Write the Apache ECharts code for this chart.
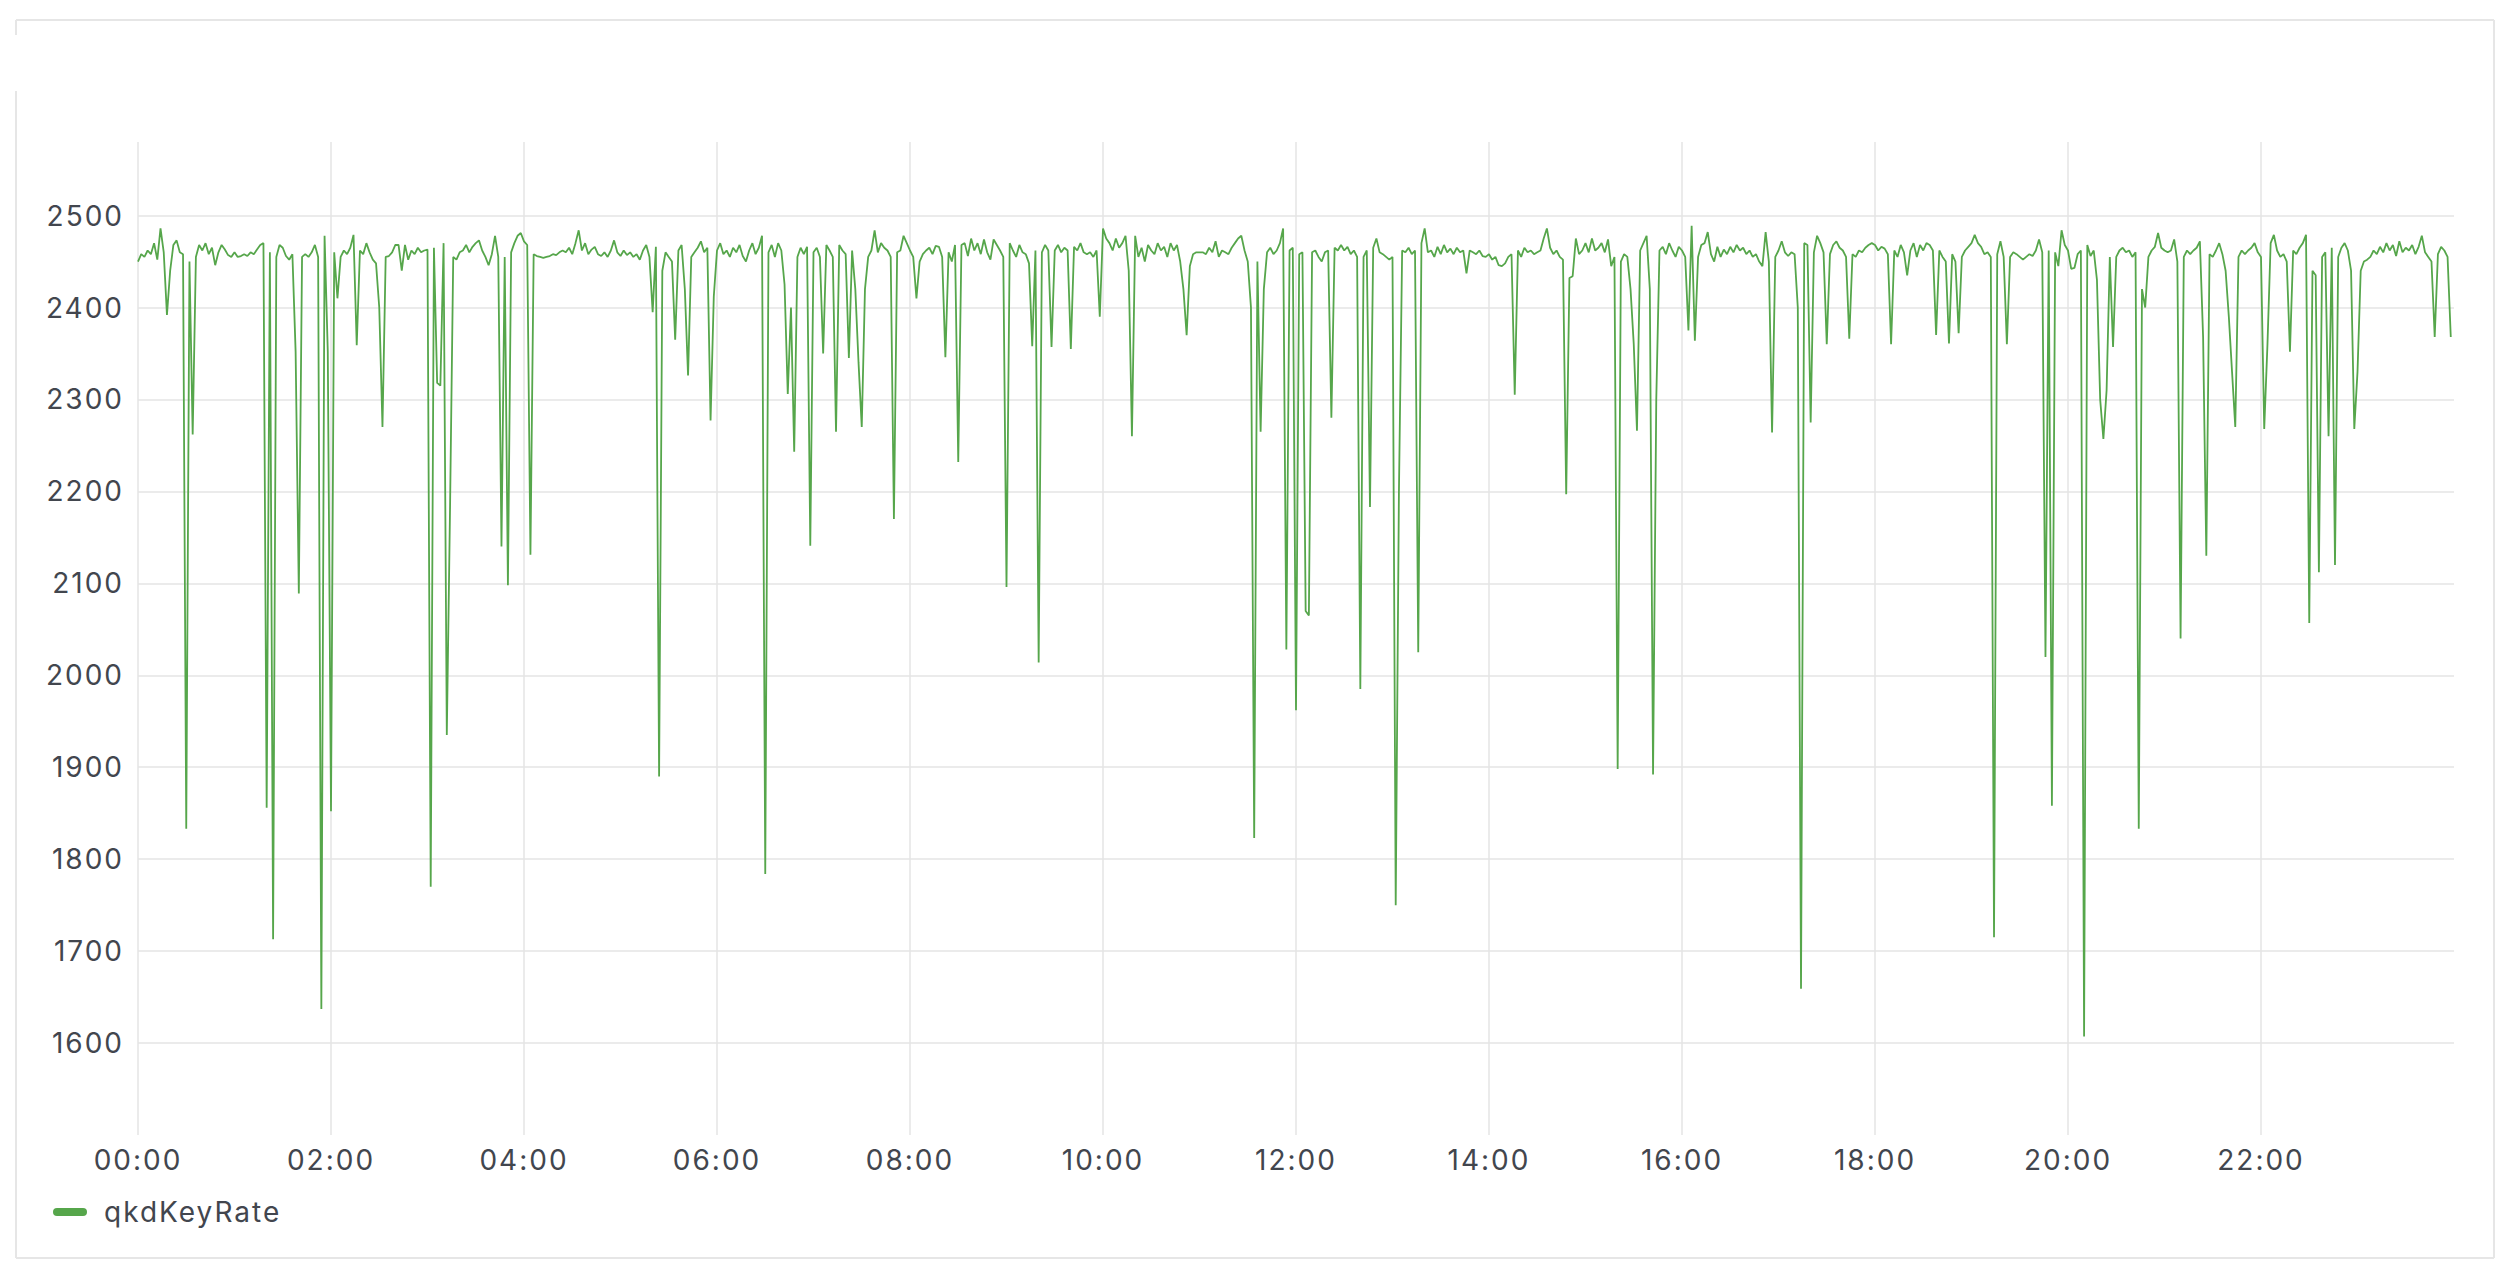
<!DOCTYPE html>
<html>
<head>
<meta charset="utf-8">
<title>qkdKeyRate</title>
<script src="https://cdn.jsdelivr.net/npm/echarts@6/dist/echarts.min.js"></script>
<style>
  html, body { margin: 0; padding: 0; background: #fff; }
  #chart { width: 2514px; height: 1275px; }
  /* the source screenshot has loosely spaced glyphs */
  #chart text { letter-spacing: 2px; }
</style>
</head>
<body>
<div id="chart"></div>
<script>
// qkdKeyRate, one sample every 2 minutes, one array per 2-hour block
const rate00 = [
  2450, 2458, 2455, 2462, 2458, 2470, 2452, 2486, 2460, 2392,
  2440, 2468, 2473, 2460, 2458, 1833, 2450, 2262, 2455, 2468,
  2462, 2470, 2458, 2465, 2446, 2460, 2468, 2463, 2457, 2455,
  2460, 2455, 2456, 2458, 2456, 2460, 2458, 2463, 2468, 2470,
  1856, 2460, 1713, 2455, 2468, 2465, 2456, 2452, 2458, 2352,
  2089, 2455, 2458, 2455, 2460, 2468, 2455, 1637, 2478, 2352
];
const rate02 = [
  1852, 2460, 2410, 2455, 2462, 2458, 2465, 2479, 2359, 2462,
  2458, 2470, 2460, 2452, 2448, 2400, 2270, 2455, 2456, 2460,
  2468, 2468, 2440, 2468, 2452, 2462, 2458, 2465, 2460, 2462,
  2463, 1770, 2465, 2318, 2315, 2470, 1935, 2180, 2455, 2452,
  2460, 2462, 2468, 2460, 2466, 2470, 2473, 2462, 2455, 2446,
  2458, 2478, 2455, 2140, 2455, 2098, 2460, 2470, 2478, 2481
];
const rate04 = [
  2472, 2468, 2131, 2458, 2456, 2455, 2454, 2455, 2456, 2458,
  2457, 2460, 2462, 2460, 2465, 2458, 2470, 2484, 2462, 2470,
  2458, 2463, 2466, 2458, 2456, 2460, 2455, 2462, 2473, 2460,
  2456, 2462, 2457, 2460, 2455, 2458, 2452, 2462, 2468, 2455,
  2395, 2466, 1890, 2440, 2460, 2455, 2450, 2365, 2462, 2468,
  2420, 2326, 2455, 2460, 2465, 2472, 2460, 2465, 2277, 2412
];
const rate06 = [
  2462, 2470, 2458, 2462, 2455, 2465, 2460, 2468, 2456, 2450,
  2462, 2470, 2458, 2465, 2478, 1784, 2460, 2468, 2455, 2470,
  2462, 2425, 2306, 2400, 2243, 2455, 2465, 2458, 2466, 2141,
  2460, 2465, 2455, 2350, 2468, 2462, 2455, 2265, 2468, 2462,
  2458, 2345, 2462, 2420, 2340, 2270, 2420, 2455, 2462, 2484,
  2460, 2470, 2465, 2462, 2455, 2170, 2460, 2462, 2478, 2470
];
const rate08 = [
  2462, 2455, 2410, 2450, 2458, 2462, 2465, 2458, 2467, 2466,
  2455, 2346, 2460, 2450, 2468, 2232, 2468, 2470, 2456, 2475,
  2462, 2470, 2458, 2474, 2460, 2452, 2474, 2468, 2462, 2455,
  2096, 2470, 2462, 2455, 2468, 2460, 2458, 2448, 2358, 2462,
  2014, 2460, 2468, 2462, 2357, 2462, 2468, 2460, 2465, 2462,
  2355, 2466, 2462, 2470, 2460, 2458, 2460, 2455, 2462, 2390
];
const rate10 = [
  2486, 2475, 2470, 2462, 2475, 2465, 2470, 2478, 2440, 2260,
  2478, 2455, 2465, 2450, 2468, 2462, 2458, 2470, 2462, 2466,
  2455, 2470, 2462, 2468, 2450, 2420, 2370, 2445, 2458, 2460,
  2460, 2460, 2458, 2465, 2460, 2472, 2455, 2462, 2460, 2458,
  2465, 2470, 2475, 2478, 2462, 2450, 2400, 1823, 2450, 2265,
  2420, 2460, 2465, 2458, 2462, 2470, 2486, 2028, 2462, 2465
];
const rate12 = [
  1962, 2458, 2460, 2070, 2065, 2460, 2462, 2455, 2450, 2460,
  2462, 2280, 2465, 2462, 2468, 2462, 2466, 2458, 2462, 2455,
  1985, 2455, 2462, 2183, 2465, 2475, 2460, 2458, 2455, 2452,
  2455, 1750, 2200, 2462, 2460, 2465, 2458, 2462, 2025, 2470,
  2486, 2460, 2462, 2455, 2466, 2458, 2468, 2460, 2464, 2458,
  2465, 2460, 2462, 2437, 2462, 2460, 2458, 2462, 2456, 2455
];
const rate14 = [
  2458, 2452, 2455, 2446, 2445, 2448, 2455, 2458, 2305, 2462,
  2455, 2465, 2460, 2462, 2458, 2460, 2462, 2475, 2486, 2465,
  2458, 2462, 2455, 2452, 2197, 2432, 2434, 2475, 2458, 2462,
  2470, 2460, 2475, 2462, 2465, 2470, 2460, 2474, 2445, 2455,
  1898, 2450, 2458, 2455, 2420, 2360, 2266, 2462, 2470, 2478,
  2420, 1892, 2300, 2462, 2466, 2458, 2470, 2462, 2455, 2466
];
const rate16 = [
  2462, 2455, 2375, 2489, 2364, 2455, 2468, 2470, 2482, 2458,
  2450, 2466, 2455, 2463, 2458, 2466, 2460, 2468, 2462, 2465,
  2458, 2462, 2455, 2458, 2450, 2445, 2482, 2450, 2264, 2455,
  2462, 2472, 2460, 2456, 2460, 2458, 2400, 1659, 2470, 2468,
  2275, 2460, 2478, 2470, 2460, 2360, 2458, 2468, 2472, 2465,
  2462, 2455, 2366, 2458, 2455, 2462, 2460, 2465, 2468, 2470
];
const rate18 = [
  2468, 2462, 2466, 2464, 2458, 2360, 2462, 2455, 2468, 2460,
  2435, 2462, 2470, 2455, 2468, 2462, 2470, 2468, 2462, 2370,
  2462, 2455, 2450, 2361, 2458, 2450, 2372, 2455, 2462, 2466,
  2470, 2479, 2470, 2466, 2458, 2460, 2455, 1715, 2458, 2472,
  2455, 2360, 2455, 2460, 2458, 2455, 2452, 2455, 2458, 2456,
  2462, 2474, 2460, 2020, 2462, 1858, 2460, 2445, 2484, 2468
];
const rate20 = [
  2462, 2442, 2443, 2458, 2462, 1607, 2468, 2456, 2462, 2430,
  2300, 2257, 2310, 2455, 2357, 2455, 2462, 2465, 2460, 2462,
  2455, 2460, 1833, 2420, 2400, 2455, 2462, 2466, 2481, 2465,
  2462, 2460, 2462, 2474, 2450, 2040, 2455, 2462, 2458, 2462,
  2465, 2472, 2368, 2130, 2458, 2455, 2462, 2470, 2458, 2440,
  2390, 2330, 2270, 2455, 2462, 2458, 2462, 2465, 2470, 2460
];
const rate22 = [
  2455, 2268, 2359, 2470, 2479, 2462, 2455, 2458, 2450, 2352,
  2462, 2458, 2465, 2470, 2479, 2057, 2440, 2435, 2112, 2455,
  2460, 2260, 2465, 2120, 2455, 2465, 2470, 2462, 2440, 2268,
  2330, 2440, 2450, 2452, 2455, 2462, 2458, 2466, 2460, 2470,
  2462, 2468, 2456, 2472, 2460, 2465, 2462, 2468, 2458, 2466,
  2478, 2460, 2455, 2450, 2368, 2458, 2466, 2462, 2455, 2368
];

const seriesName = 'qkdKeyRate';
const stepMinutes = 2;
const hourLabels = ['00:00', '02:00', '04:00', '06:00', '08:00', '10:00',
  '12:00', '14:00', '16:00', '18:00', '20:00', '22:00'];

const lineColor = '#56a64b';
const textColor = '#42464e';
const gridColor = '#e4e4e4';
const borderColor = '#e6e6e6';

const values = [rate00, rate02, rate04, rate06, rate08, rate10,
  rate12, rate14, rate16, rate18, rate20, rate22].flat();
const points = values.map((v, i) => [i * stepMinutes, v]);

const chart = echarts.init(document.getElementById('chart'), null, { renderer: 'svg' });

chart.setOption({
  animation: false,
  backgroundColor: '#ffffff',
  textStyle: { fontFamily: 'Inter, "DejaVu Sans", sans-serif' },
  grid: { left: 138, right: 60, top: 142, bottom: 140 },
  xAxis: {
    type: 'value',
    min: 0,
    max: 1440,
    interval: 120,
    axisLine: { show: false },
    axisTick: { show: false },
    axisLabel: {
      color: textColor,
      fontSize: 28,
      margin: 11,
      showMaxLabel: false,
      formatter: (v) => hourLabels[v / 120] || ''
    },
    splitLine: {
      show: true,
      showMaxLine: false,
      lineStyle: { color: gridColor, width: 1.5 }
    }
  },
  yAxis: {
    type: 'value',
    min: 1500,
    max: 2580,
    interval: 100,
    axisLine: { show: false },
    axisTick: { show: false },
    axisLabel: {
      color: textColor,
      fontSize: 28,
      margin: 14,
      showMinLabel: false,
      showMaxLabel: false,
      formatter: (v) => String(v)
    },
    splitLine: {
      show: true,
      showMinLine: false,
      showMaxLine: false,
      lineStyle: { color: gridColor, width: 1.5 }
    }
  },
  legend: {
    left: 48,
    top: 1193,
    icon: 'path://M4,0 H30 A4,4 0 0 1 30,8 H4 A4,4 0 0 1 4,0 Z',
    itemWidth: 34,
    itemHeight: 8,
    textStyle: { color: textColor, fontSize: 28, padding: [0, 0, 0, 12] },
    data: [seriesName]
  },
  series: [
    {
      name: seriesName,
      type: 'line',
      data: points,
      symbol: 'none',
      lineStyle: { width: 1.8, color: lineColor },
      itemStyle: { color: lineColor }
    }
  ],
  graphic: [
    { type: 'line', shape: { x1: 16, y1: 20, x2: 2494, y2: 20 }, style: { stroke: borderColor, lineWidth: 2 } },
    { type: 'line', shape: { x1: 2494, y1: 20, x2: 2494, y2: 1258 }, style: { stroke: borderColor, lineWidth: 2 } },
    { type: 'line', shape: { x1: 16, y1: 1258, x2: 2494, y2: 1258 }, style: { stroke: borderColor, lineWidth: 2 } },
    { type: 'line', shape: { x1: 16, y1: 20, x2: 16, y2: 35 }, style: { stroke: borderColor, lineWidth: 2 } },
    { type: 'line', shape: { x1: 16, y1: 91, x2: 16, y2: 1258 }, style: { stroke: borderColor, lineWidth: 2 } }
  ]
});
</script>
</body>
</html>
